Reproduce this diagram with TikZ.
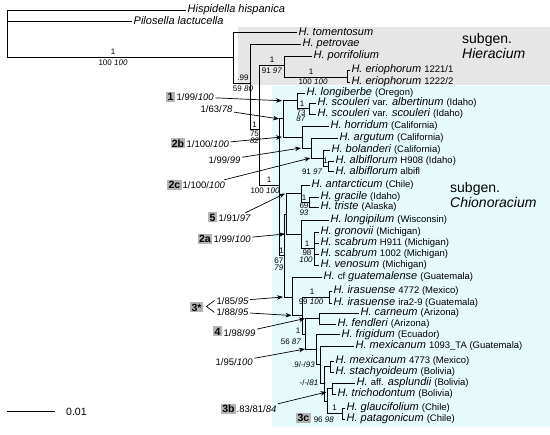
\documentclass[tikz,border=0pt]{standalone}
\usepackage{fontspec}
\setmainfont{Liberation Sans}
\usetikzlibrary{arrows.meta}
\definecolor{hiergray}{RGB}{230,230,230}
\definecolor{chioncyan}{RGB}{229,251,251}
\definecolor{tagfill}{RGB}{180,180,180}
\newcommand\taxloc[1]{{\upshape\fontsize{9.5}{11}\selectfont #1}}
\begin{document}
\begin{tikzpicture}[x=1pt,y=-1pt,
  br/.style={line width=0.8pt},
  tx/.style={anchor=west,inner sep=1.3pt,font=\fontsize{11}{12}\selectfont\itshape},
  bs/.style={inner sep=0pt,font=\fontsize{8}{9}\selectfont},
  lab/.style={inner sep=1.5pt,anchor=west,font=\fontsize{9.5}{11}\selectfont},
  tag/.style={fill=tagfill,inner sep=1.2pt,text height=7.6pt,text depth=0pt,font=\fontsize{10.5}{12}\selectfont\bfseries},
  arr/.style={line width=0.7pt,-{Stealth[length=6pt,width=4.5pt]}},
  sg/.style={anchor=west,align=left,inner sep=0pt,font=\fontsize{14}{14.5}\selectfont}
]
\useasboundingbox (0,0) rectangle (550,435);
\fill[hiergray] (238,27) rectangle (550,85);
\fill[chioncyan] (272,86) rectangle (550,427);

% outgroups and root
\draw[br] (7,10) -- (7,57);
\draw[br] (7,10) -- (186,10) node[tx] (hisp) {Hispidella hispanica};
\draw[br] (7,21) -- (132,21) node[tx] (pilo) {Pilosella lactucella};
\draw[br] (7,57) -- (233,57);
\node[bs] (s1a) at (113,52) {1};
\node[bs] (s1b) at (113,63) {100 \textit{100}};

% subgen. Hieracium
\draw[br] (233,32) -- (233,83);
\draw[br] (233,32) -- (297,32) node[tx] (tome) {H. tomentosum};
\draw[br] (233,83) -- (250,83);
\node[bs] (s2a) at (243,78) {.99};
\node[bs] (s2b) at (243,89) {59 \textit{80}};
\draw[br] (250,44) -- (250,129);
\draw[br] (250,44) -- (301,44) node[tx] (petr) {H. petrovae};
\draw[br] (250,129) -- (259,129);
\node[bs] (s3a) at (254.5,124.5) {1};
\node[bs] (s3b) at (254.5,134) {75};
\node[bs] (s3c) at (254.5,141) {\textit{82}};
\draw[br] (259,65) -- (259,185);
\draw[br] (259,65) -- (284,65);
\node[bs] (s4a) at (272,60) {1};
\node[bs] (s4b) at (272,70.5) {91 \textit{97}};
\draw[br] (284,56) -- (284,77);
\draw[br] (284,56) -- (312,56) node[tx] (porr) {H. porrifolium};
\draw[br] (284,77) -- (347,77);
\node[bs] (s5a) at (311,72) {1};
\node[bs] (s5b) at (313,82) {100 \textit{100}};
\draw[br] (350,70) -- (347,70) -- (347,82) -- (350,82);
\node[tx] (eri1) at (350,70) {H. eriophorum \taxloc{1221/1}};
\node[tx] (eri2) at (350,82) {H. eriophorum \taxloc{1222/2}};

% subgen. Chionoracium
\draw[br] (259,185) -- (279,185);
\node[bs] (s6a) at (269,180) {1};
\node[bs] (s6b) at (265,191) {100 \textit{100}};
\draw[br] (279,118.9) -- (279,255);
\draw[br] (279,118.9) -- (283,118.9);
\draw[br] (283,100.75) -- (283,137);
\draw[br] (283,100.75) -- (297,100.75);
\draw[br] (297,93) -- (297,108.5);
\draw[br] (297,93) -- (305,93) node[tx] (long) {H. longiberbe \taxloc{(Oregon)}};
\draw[br] (297,108.5) -- (309,108.5);
\draw[br] (309,103) -- (309,114);
\draw[br] (309,103) -- (316,103) node[tx] (scoa) {H. scouleri \taxloc{var.} albertinum \taxloc{(Idaho)}};
\draw[br] (309,114) -- (316,114) node[tx] (scos) {H. scouleri \taxloc{var.} scouleri \taxloc{(Idaho)}};
\node[bs] (s7a) at (302,104) {1};
\node[bs] (s7b) at (301,112.5) {73};
\node[bs] (s7c) at (301,119) {\textit{87}};

\draw[br] (283,137) -- (302,137);
\draw[br] (302,126) -- (302,148);
\draw[br] (302,126) -- (329,126) node[tx] (horr) {H. horridum \taxloc{(California)}};
\draw[br] (302,148) -- (311,148);
\draw[br] (311,138) -- (311,158);
\draw[br] (311,138) -- (338,138) node[tx] (argu) {H. argutum \taxloc{(California)}};
\draw[br] (311,158) -- (323,158);
\draw[br] (323,150) -- (323,166);
\draw[br] (323,150) -- (330,150) node[tx] (bola) {H. bolanderi \taxloc{(California)}};
\draw[br] (323,166) -- (328,166);
\draw[br] (328,161) -- (328,171);
\draw[br] (328,161) -- (334,161) node[tx] (alb1) {H. albiflorum \taxloc{H908 (Idaho)}};
\draw[br] (328,171) -- (334,171) node[tx] (alb2) {H. albiflorum \taxloc{albifl}};
\node[bs] (s8a) at (325.5,161) {1};
\node[bs,anchor=east] (s8b) at (322.5,171.5) {91 \textit{97}};

\draw[br] (279,255) -- (284,255);
\node[bs] (s9a) at (281.5,250.5) {1};
\node[bs,anchor=east] (s9b) at (283.5,261) {67};
\node[bs,anchor=east] (s9c) at (283.5,268) {\textit{79}};
\draw[br] (284,214) -- (284,297);
\draw[br] (284,214) -- (286,214);
\draw[br] (286,193.5) -- (286,234);
\draw[br] (286,193.5) -- (301,193.5);
\draw[br] (301,185) -- (301,202);
\draw[br] (301,185) -- (310,185) node[tx] (anta) {H. antarcticum \taxloc{(Chile)}};
\draw[br] (301,202) -- (309,202);
\draw[br] (309,197) -- (309,207);
\draw[br] (309,197) -- (319,197) node[tx] (grac) {H. gracile \taxloc{(Idaho)}};
\draw[br] (309,207) -- (319,207) node[tx] (tris) {H. triste \taxloc{(Alaska)}};
\node[bs] (s10a) at (304,197.5) {1};
\node[bs] (s10b) at (304,206) {69};
\node[bs] (s10c) at (304,213) {\textit{93}};

\draw[br] (286,234) -- (301,234);
\draw[br] (301,220) -- (301,248.5);
\draw[br] (301,220) -- (329,220) node[tx] (lonp) {H. longipilum \taxloc{(Wisconsin)}};
\draw[br] (301,248.5) -- (314,248.5);
\draw[br] (314,232) -- (314,265);
\draw[br] (314,232) -- (319,232) node[tx] (gron) {H. gronovii \taxloc{(Michigan)}};
\draw[br] (314,243) -- (319,243) node[tx] (sca1) {H. scabrum \taxloc{H911 (Michigan)}};
\draw[br] (314,254) -- (319,254) node[tx] (sca2) {H. scabrum \taxloc{1002 (Michigan)}};
\draw[br] (314,265) -- (319,265) node[tx] (veno) {H. venosum \taxloc{(Michigan)}};
\node[bs] (s11a) at (307,243.5) {1};
\node[bs] (s11b) at (307,252.5) {98};
\node[bs] (s11c) at (306,259.5) {\textit{100}};

\draw[br] (284,297) -- (292,297);
\draw[br] (292,277) -- (292,315.5);
\draw[br] (292,277) -- (322,277) node[tx] (guat) {H. \taxloc{cf} guatemalense \taxloc{(Guatemala)}};
\draw[br] (292,315.5) -- (302,315.5);
\draw[br] (302,297) -- (302,334.5);
\draw[br] (302,297) -- (329,297);
\draw[br] (332,291) -- (329,291) -- (329,303) -- (332,303);
\node[tx] (ira1) at (332,291) {H. irasuense \taxloc{4772 (Mexico)}};
\node[tx] (ira2) at (332,303) {H. irasuense \taxloc{ira2-9 (Guatemala)}};
\node[bs] (s12a) at (312,291.5) {1};
\node[bs] (s12b) at (311,302) {99 \textit{100}};
\draw[br] (302,334.5) -- (305,334.5);
\draw[br] (305,318.5) -- (305,349);
\draw[br] (305,318.5) -- (319,318.5);
\draw[br] (319,313) -- (319,324);
\draw[br] (319,313) -- (359,313) node[tx] (carn) {H. carneum \taxloc{(Arizona)}};
\draw[br] (319,324) -- (336,324) node[tx] (fend) {H. fendleri \taxloc{(Arizona)}};
\node[bs,anchor=east] (s13a) at (300.5,331) {1};
\node[bs] (s13b) at (291,342) {56 \textit{87}};
\draw[br] (305,349) -- (316,349);
\draw[br] (316,334.5) -- (316,364.5);
\draw[br] (316,334.5) -- (340,334.5) node[tx] (frig) {H. frigidum \taxloc{(Ecuador)}};
\draw[br] (316,364.5) -- (320,364.5);
\node[bs,anchor=east] (s14) at (315,365) {.9/-/\textit{93}};
\draw[br] (320,346) -- (320,383.5);
\draw[br] (320,346) -- (354,346) node[tx] (mex1) {H. mexicanum \taxloc{1093\_TA (Guatemala)}};
\draw[br] (320,383.5) -- (324,383.5);
\node[bs,anchor=east] (s15) at (318.5,383) {-/-/\textit{81}};
\draw[br] (324,366.5) -- (324,401);
\draw[br] (324,366.5) -- (330,366.5);
\draw[br] (330,361) -- (330,372);
\draw[br] (330,361) -- (334,361) node[tx] (mex2) {H. mexicanum \taxloc{4773 (Mexico)}};
\draw[br] (330,372) -- (334,372) node[tx] (stac) {H. stachyoideum \taxloc{(Bolivia)}};
\draw[br] (324,401) -- (327,401);
\draw[br] (327,388.5) -- (327,413.5);
\draw[br] (327,388.5) -- (332,388.5);
\draw[br] (332,383) -- (332,394);
\draw[br] (332,383) -- (355,383) node[tx] (aspl) {H. \taxloc{aff.} asplundii \taxloc{(Bolivia)}};
\draw[br] (332,394) -- (336,394) node[tx] (tric) {H. trichodontum \taxloc{(Bolivia)}};
\draw[br] (327,413.5) -- (342,413.5);
\draw[br] (342,408) -- (342,419);
\draw[br] (342,408) -- (345,408) node[tx] (glau) {H. glaucifolium \taxloc{(Chile)}};
\draw[br] (342,419) -- (345,419) node[tx] (pata) {H. patagonicum \taxloc{(Chile)}};
\node[bs] (s16a) at (334.5,408) {1};
\node[bs,anchor=east] (s16b) at (334,419.5) {96 \textit{98}};
\node[tag] (g3c) at (303.5,418) {3c};

% subgenus labels
\node[sg] (sgh) at (462,46) {subgen.\\\textit{Hieracium}};
\node[sg] (sgc) at (450,195) {subgen.\\\textit{Chionoracium}};

% arrow targets
\coordinate (t1) at (282,100.75);
\coordinate (t163) at (279,118.9);
\coordinate (t2b) at (282,137);
\coordinate (t199) at (301,148);
\coordinate (t2c) at (310.5,158);
\coordinate (t5) at (285,193.5);
\coordinate (t2a) at (285,234);
\coordinate (t385) at (283,297);
\coordinate (t388) at (291.5,315.5);
\coordinate (t4) at (305,318.5);
\coordinate (t195) at (305,349);
\coordinate (t3b) at (326.5,392);

% left labels with arrows
\node[tag] (g1) at (170.5,97) {1};
\node[lab] (l1) at (175,97) {1/99/\textit{100}};
\draw[arr] (l1) -- (t1);
\node[lab] (l163) at (199,109.5) {1/63/\textit{78}};
\draw[arr] (l163) -- (t163);
\node[tag] (g2b) at (178,143.5) {2b};
\node[lab] (l2b) at (185,144) {1/100/\textit{100}};
\draw[arr] (l2b) -- (t2b);
\node[lab] (l199) at (207,160) {1/99/\textit{99}};
\draw[arr] (l199) -- (t199);
\node[tag] (g2c) at (174.5,185) {2c};
\node[lab] (l2c) at (181,185) {1/100/\textit{100}};
\draw[arr] (l2c) -- (t2c);
\node[tag] (g5) at (212.5,217.5) {5};
\node[lab] (l5) at (217,218) {1/91/\textit{97}};
\draw[arr] (l5) -- (t5);
\node[tag] (g2a) at (205,239) {2a};
\node[lab] (l2a) at (212,239) {1/99/\textit{100}};
\draw[arr] (l2a) -- (t2a);
\node[tag] (g3s) at (196.5,307.5) {3*};
\coordinate (b1) at (214.5,300.5);
\coordinate (b2) at (206.5,306.5);
\coordinate (b3) at (214.5,312.5);
\draw[line width=0.7pt] (b1) -- (b2) -- (b3);
\node[lab] (l385) at (215,301) {1/85/\textit{95}};
\draw[arr] (l385) -- (t385);
\node[lab] (l388) at (215,312) {1/88/\textit{95}};
\draw[arr] (l388) -- (t388);
\node[tag] (g4) at (217.5,331.5) {4};
\node[lab] (l4) at (222,333) {1/98/\textit{99}};
\draw[arr] (l4) -- (t4);
\node[lab] (l195) at (214,362) {1/95/\textit{100}};
\draw[arr] (l195) -- (t195);
\node[tag] (g3b) at (228.5,409) {3b};
\node[lab] (l3b) at (235,409) {.83/81/\textit{84}};
\draw[arr] (l3b) -- (t3b);

% scale bar
\coordinate (sb0) at (7,411);
\coordinate (sb1) at (55,411);
\draw[br] (sb0) -- (sb1);
\node[anchor=west,inner sep=0pt,font=\fontsize{10.5}{12}\selectfont] (sbl) at (66,411.5) {0.01};
\end{tikzpicture}
\end{document}
